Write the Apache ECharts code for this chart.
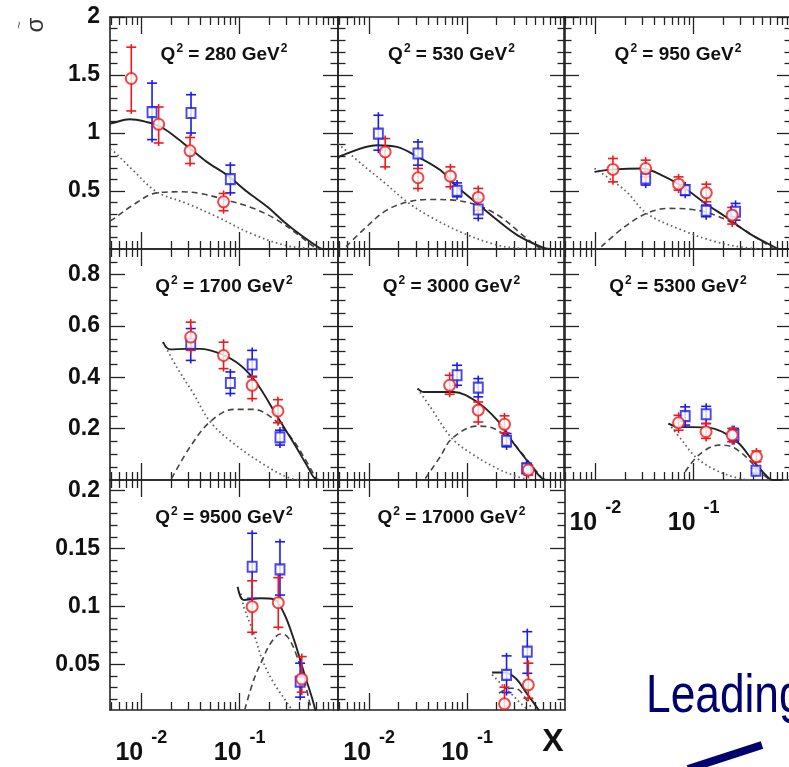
<!DOCTYPE html>
<html><head><meta charset="utf-8">
<script src="https://cdn.jsdelivr.net/npm/echarts@6/dist/echarts.min.js"></script>
<style>html,body{margin:0;padding:0;background:#fff;}#c{width:789px;height:767px;}</style>
</head><body><div id="c"></div>
<script>
// ---------------- data ----------------
const Q2 = [280, 530, 950, 1700, 3000, 5300, 9500, 17000];
// points: [x, value, errLow, errHigh]
const red280  = [[0.0079,1.47,1.19,1.74],[0.0150,1.075,0.914,1.224],[0.0313,0.846,0.737,0.961],[0.0686,0.407,0.33,0.479]];
const blue280 = [[0.01285,1.18,0.943,1.43],[0.032,1.173,1.0,1.33],[0.0804,0.602,0.484,0.723]];
const tot280  = [[0.0048,1.08],[0.0051,1.086],[0.0076,1.118],[0.0113,1.095],[0.0154,1.058],[0.0211,0.981],[0.0313,0.866],[0.0463,0.751],[0.0743,0.637],[0.119,0.493],[0.191,0.364],[0.282,0.235],[0.419,0.12],[0.621,0.02],[0.7,0],[1,0]];
const dot280  = [[0.0048,0.86],[0.0053,0.837],[0.0082,0.68],[0.0143,0.493],[0.0289,0.393],[0.0586,0.278],[0.129,0.135],[0.282,0.034],[0.49,0.006],[0.7,0]];
const dash280 = [[0.0048,0.24],[0.0053,0.264],[0.0082,0.378],[0.0143,0.484],[0.0247,0.493],[0.0396,0.479],[0.0743,0.421],[0.139,0.35],[0.242,0.249],[0.419,0.106],[0.573,0.02],[0.7,0]];

const red530  = [[0.01456,0.837,0.708,0.952],[0.0315,0.614,0.522,0.694],[0.0675,0.628,0.536,0.708],[0.13,0.445,0.335,0.522]];
const blue530 = [[0.0124,0.995,0.852,1.153],[0.0315,0.823,0.723,0.923],[0.079,0.502,0.45,0.57],[0.13,0.341,0.264,0.43]];
const tot530  = [[0.0048,0.78],[0.00504,0.80],[0.012,0.895],[0.0192,0.88],[0.0315,0.794],[0.0532,0.68],[0.079,0.536],[0.1265,0.393],[0.203,0.249],[0.325,0.12],[0.564,0.02],[0.7,0],[1,0]];
const dot530  = [[0.0048,0.91],[0.0087,0.72],[0.014,0.579],[0.0243,0.407],[0.042,0.278],[0.0923,0.135],[0.203,0.034],[0.352,0.005],[0.6,0]];
const dash530 = [[0.0058,0.02],[0.0094,0.192],[0.0151,0.335],[0.0252,0.407],[0.042,0.427],[0.0729,0.421],[0.1265,0.378],[0.219,0.278],[0.352,0.135],[0.521,0.02],[0.6,0]];

const red950  = [[0.0151,0.686,0.579,0.78],[0.0325,0.694,0.622,0.766],[0.0702,0.559,0.508,0.622],[0.1345,0.484,0.407,0.559],[0.2465,0.292,0.215,0.358]];
const blue950 = [[0.0325,0.608,0.551,0.665],[0.082,0.508,0.464,0.551],[0.134,0.33,0.278,0.378],[0.2667,0.321,0.249,0.393]];
const tot950  = [[0.0098,0.665],[0.0157,0.686],[0.0295,0.694],[0.0512,0.622],[0.082,0.522],[0.1315,0.393],[0.211,0.278],[0.366,0.135],[0.634,0.026],[0.75,0],[1,0]];
const dot950  = [[0.0098,0.694],[0.0199,0.508],[0.0333,0.307],[0.0759,0.163],[0.166,0.063],[0.313,0.015],[0.5,0]];
const dash950 = [[0.0115,0.02],[0.0199,0.192],[0.0333,0.307],[0.0555,0.35],[0.096,0.341],[0.166,0.292],[0.289,0.192],[0.501,0.063],[0.634,0.01]];

const red1700  = [[0.0318,0.557,0.505,0.615],[0.0686,0.485,0.434,0.537],[0.134,0.369,0.317,0.401],[0.245,0.269,0.223,0.313]];
const blue1700 = [[0.0318,0.531,0.466,0.59],[0.0804,0.378,0.337,0.421],[0.134,0.45,0.404,0.505],[0.257,0.166,0.136,0.194]];
const tot1700  = [[0.0166,0.537],[0.0195,0.509],[0.0289,0.511],[0.0396,0.511],[0.0634,0.492],[0.1017,0.447],[0.1506,0.375],[0.242,0.246],[0.357,0.142],[0.491,0.052],[0.597,0.003],[0.7,0]];
const dot1700  = [[0.0166,0.537],[0.0229,0.44],[0.0338,0.337],[0.0501,0.227],[0.0869,0.142],[0.191,0.052],[0.33,0.006],[0.45,0]];
const dash1700 = [[0.0203,0.006],[0.0313,0.129],[0.0501,0.227],[0.0869,0.275],[0.139,0.275],[0.2066,0.246],[0.33,0.168],[0.491,0.065],[0.597,0.005]];

const red3000  = [[0.0664,0.369,0.334,0.408],[0.13,0.272,0.226,0.304],[0.241,0.217,0.184,0.25],[0.422,0.039,0.019,0.058]];
const blue3000 = [[0.079,0.408,0.369,0.447],[0.13,0.36,0.324,0.395],[0.253,0.153,0.129,0.181],[0.405,0.045,0.026,0.065]];
const tot3000  = [[0.0312,0.356],[0.0359,0.343],[0.0729,0.343],[0.1265,0.304],[0.203,0.233],[0.3,0.142],[0.446,0.058],[0.586,0.006],[0.7,0]];
const dot3000  = [[0.0312,0.356],[0.042,0.285],[0.0702,0.162],[0.117,0.097],[0.203,0.045],[0.325,0.013],[0.45,0]];
const dash3000 = [[0.0374,0.006],[0.0532,0.091],[0.0702,0.162],[0.1265,0.21],[0.1875,0.201],[0.278,0.155],[0.412,0.078],[0.564,0.013]];

const red5300  = [[0.0702,0.223,0.194,0.252],[0.1337,0.188,0.162,0.22],[0.2465,0.175,0.149,0.201],[0.435,0.091,0.071,0.113]];
const blue5300 = [[0.082,0.249,0.214,0.285],[0.134,0.256,0.22,0.287],[0.257,0.175,0.149,0.201],[0.43,0.036,0.026,0.046]];
const tot5300  = [[0.0555,0.22],[0.0702,0.207],[0.1315,0.205],[0.195,0.188],[0.289,0.142],[0.395,0.078],[0.542,0.019],[0.634,0],[0.8,0]];
const dot5300  = [[0.0555,0.22],[0.0759,0.155],[0.1038,0.091],[0.166,0.039],[0.289,0.006],[0.4,0]];
const dash5300 = [[0.082,0.032],[0.1125,0.097],[0.18,0.136],[0.2465,0.129],[0.338,0.091],[0.501,0.023],[0.6,0]];

const red9500  = [[0.134,0.0997,0.0776,0.122],[0.247,0.1031,0.0819,0.1247],[0.428,0.0373,0.0259,0.0566]];
const blue9500 = [[0.134,0.1341,0.1069,0.163],[0.257,0.1319,0.1097,0.1557],[0.412,0.035,0.0216,0.0509]];
const tot9500  = [[0.0954,0.1169],[0.11,0.1054],[0.163,0.1069],[0.223,0.106],[0.282,0.094],[0.357,0.071],[0.453,0.0422],[0.552,0.0192],[0.597,0.008]];
const dot9500  = [[0.1033,0.111],[0.11,0.0997],[0.139,0.0767],[0.17,0.0537],[0.223,0.0336],[0.306,0.0164],[0.357,0.008]];
const dash9500 = [[0.1125,0.0106],[0.139,0.0365],[0.17,0.0537],[0.2066,0.0681],[0.261,0.0761],[0.306,0.0738],[0.372,0.0595],[0.453,0.0365],[0.53,0.012]];

const red17000  = [[0.241,0.0158,0.0,0.0302],[0.422,0.0322,0.0207,0.0509]];
const blue17000 = [[0.253,0.0408,0.0255,0.0572],[0.412,0.0609,0.0422,0.0781]];
const tot17000  = [[0.18,0.0428],[0.237,0.0428],[0.313,0.0379],[0.395,0.0264],[0.481,0.0164],[0.542,0.01]];
const dot17000  = [[0.18,0.041],[0.219,0.0336],[0.278,0.025],[0.338,0.0178],[0.4,0.012]];
const dash17000 = [[0.211,0.025],[0.278,0.0293],[0.338,0.0278],[0.395,0.0207],[0.446,0.0134]];

// axis ticks / labels
const xMajor = [0.01, 0.1];
const xMinor = [0.005,0.006,0.007,0.008,0.009,0.02,0.03,0.04,0.05,0.06,0.07,0.08,0.09,0.2,0.3,0.4,0.5,0.6,0.7,0.8,0.9];
const yRangeR1 = [0, 2], yRangeR2 = [0, 0.9], yRangeR3 = [0.0105, 0.209];
const yMajorR1 = [0.5, 1, 1.5, 2];
const yMajorR2 = [0.2, 0.4, 0.6, 0.8];
const yMajorR3 = [0.05, 0.1, 0.15, 0.2];
const yMinorR1 = [0.1,0.2,0.3,0.4,0.6,0.7,0.8,0.9,1.1,1.2,1.3,1.4,1.6,1.7,1.8,1.9];
const yMinorR2 = [0.05,0.1,0.15,0.25,0.3,0.35,0.45,0.5,0.55,0.65,0.7,0.75,0.85];
const yMinorR3 = [0.02,0.03,0.04,0.06,0.07,0.08,0.09,0.11,0.12,0.13,0.14,0.16,0.17,0.18,0.19];

// ---------------- layout ----------------
const XMIN = 0.0048, XMAX = 1;
const cols = [[110,228],[338,227],[564,228]];
const rows = [[17,232],[249,231],[480,230]];
const rowY = [
  {range: yRangeR1, major: yMajorR1, minor: yMinorR1},
  {range: yRangeR2, major: yMajorR2, minor: yMinorR2},
  {range: yRangeR3, major: yMajorR3, minor: yMinorR3}
];
const panels = [
  {q:Q2[0], red:red280, blue:blue280, tot:tot280, dot:dot280, dash:dash280},
  {q:Q2[1], red:red530, blue:blue530, tot:tot530, dot:dot530, dash:dash530},
  {q:Q2[2], red:red950, blue:blue950, tot:tot950, dot:dot950, dash:dash950},
  {q:Q2[3], red:red1700, blue:blue1700, tot:tot1700, dot:dot1700, dash:dash1700},
  {q:Q2[4], red:red3000, blue:blue3000, tot:tot3000, dot:dot3000, dash:dash3000},
  {q:Q2[5], red:red5300, blue:blue5300, tot:tot5300, dot:dot5300, dash:dash5300},
  {q:Q2[6], red:red9500, blue:blue9500, tot:tot9500, dot:dot9500, dash:dash9500},
  {q:Q2[7], red:red17000, blue:blue17000, tot:tot17000, dot:dot17000, dash:dash17000}
];

const AX = '#222';
const FONT = "'Liberation Sans', Arial, sans-serif";
const RED = '#f01818', BLUE = '#1a1aee';

function xAx(g, pos, vals, len, showLine, label) {
  return {
    type: 'log', logBase: 10, gridIndex: g, position: pos, min: XMIN, max: XMAX,
    axisLine: {show: showLine, onZero: false, lineStyle: {color: AX, width: 1.6}},
    axisTick: {show: true, inside: true, length: len, customValues: vals, lineStyle: {color: AX, width: 1.3}},
    axisLabel: label ? {
      show: true, customValues: xMajor, margin: 19,
      formatter: v => v < 0.05 ? '{b|10}{s|-2}' : '{b|10}{s|-1}',
      rich: {
        b: {fontSize: 25, fontWeight: 'bold', fontFamily: FONT, color: '#111'},
        s: {fontSize: 18, fontWeight: 'bold', fontFamily: FONT, color: '#111', padding: [0, 0, 30, 8]}
      }
    } : {show: false},
    splitLine: {show: false}, minorTick: {show: false}, minorSplitLine: {show: false}
  };
}
function yAx(g, pos, range, vals, len, showLine, label, majors) {
  return {
    type: 'value', gridIndex: g, position: pos, min: range[0], max: range[1],
    axisLine: {show: showLine, onZero: false, lineStyle: {color: AX, width: 1.6}},
    axisTick: {show: true, inside: true, length: len, customValues: vals, lineStyle: {color: AX, width: 1.3}},
    axisLabel: label ? {
      show: true, customValues: majors, margin: 10,
      fontSize: 23, fontWeight: 'bold', fontFamily: FONT, color: '#111',
      formatter: v => String(+v.toFixed(3))
    } : {show: false},
    splitLine: {show: false}, minorTick: {show: false}, minorSplitLine: {show: false}
  };
}
function errRender(color) {
  return function (params, api) {
    const x = api.value(0), lo = api.value(2), hi = api.value(3);
    const a = api.coord([x, lo]), b = api.coord([x, hi]);
    const w = 5, st = {stroke: color, lineWidth: 1.6};
    return {type: 'group', children: [
      {type: 'line', shape: {x1: a[0], y1: a[1] + 3, x2: b[0], y2: b[1] - 3}, style: st},
      {type: 'line', shape: {x1: a[0] - w, y1: a[1], x2: a[0] + w, y2: a[1]}, style: st},
      {type: 'line', shape: {x1: b[0] - w, y1: b[1], x2: b[0] + w, y2: b[1]}, style: st}
    ]};
  };
}

const option = {
  animation: false, backgroundColor: '#fff',
  grid: [], xAxis: [], yAxis: [], series: [], graphic: []
};

panels.forEach((p, i) => {
  const r = Math.floor(i / 3), c = i % 3;
  const gx = cols[c][0], gw = cols[c][1], gy = rows[r][0], gh = rows[r][1];
  option.grid.push({left: gx, top: gy, width: gw, height: gh, containLabel: false, outerBoundsMode: 'none'});
  const xLab = (i === 5 || i === 6 || i === 7);
  option.xAxis.push(
    xAx(i, 'bottom', xMajor, 17, true, xLab),
    xAx(i, 'bottom', xMinor, 8, false, false),
    xAx(i, 'top', xMajor, 17, true, false),
    xAx(i, 'top', xMinor, 8, false, false)
  );
  const ry = rowY[r];
  option.yAxis.push(
    yAx(i, 'left', ry.range, ry.major, 15, true, c === 0, ry.major),
    yAx(i, 'left', ry.range, ry.minor, 7.5, false, false),
    yAx(i, 'right', ry.range, ry.major, 15, true, false),
    yAx(i, 'right', ry.range, ry.minor, 7.5, false, false)
  );
  const xi = i * 4, yi = i * 4;
  option.series.push(
    {type: 'line', xAxisIndex: xi, yAxisIndex: yi, data: p.dot, smooth: 0.35, symbol: 'none', clip: true,
     lineStyle: {color: '#666', width: 1.8, type: [1.6, 3]}, z: 2},
    {type: 'line', xAxisIndex: xi, yAxisIndex: yi, data: p.dash, smooth: 0.35, symbol: 'none', clip: true,
     lineStyle: {color: '#444', width: 1.6, type: [6, 4]}, z: 2},
    {type: 'line', xAxisIndex: xi, yAxisIndex: yi, data: p.tot, smooth: 0.35, symbol: 'none', clip: true,
     lineStyle: {color: '#222', width: 1.9}, z: 3},
    {type: 'custom', xAxisIndex: xi, yAxisIndex: yi, data: p.blue, renderItem: errRender(BLUE), clip: true,
     encode: {x: 0, y: 1}, z: 4},
    {type: 'custom', xAxisIndex: xi, yAxisIndex: yi, data: p.red, renderItem: errRender(RED), clip: true,
     encode: {x: 0, y: 1}, z: 4},
    {type: 'scatter', xAxisIndex: xi, yAxisIndex: yi, data: p.blue.map(d => [d[0], d[1]]), symbol: 'emptyRect',
     symbolSize: [9, 10], itemStyle: {color: BLUE, borderWidth: 1.8}, clip: true, z: 5},
    {type: 'scatter', xAxisIndex: xi, yAxisIndex: yi, data: p.red.map(d => [d[0], d[1]]), symbol: 'emptyCircle',
     symbolSize: 11, itemStyle: {color: RED, borderWidth: 1.8}, clip: true, z: 5}
  );
  option.graphic.push({
    type: 'text', x: gx + gw / 2, y: gy + 38, z: 10,
    style: {
      text: '{n|Q}{s|2}{n| = ' + p.q + ' GeV}{s|2}', align: 'center', verticalAlign: 'middle',
      rich: {
        n: {fontSize: 19, fontWeight: 'bold', fontFamily: FONT, fill: '#111'},
        s: {fontSize: 12, fontWeight: 'bold', fontFamily: FONT, fill: '#111', padding: [0, 0, 12, 1]}
      }
    }
  });
});

option.graphic.push(
  {type: 'text', x: 36, y: 25, rotation: Math.PI / 2, z: 10,
   style: {text: 'σ', fontSize: 24, fontFamily: FONT, fill: '#333', align: 'center', verticalAlign: 'middle'}},
  {type: 'text', x: 19, y: 25, rotation: Math.PI / 2, z: 10,
   style: {text: '~', fontSize: 13, fontFamily: FONT, fill: '#555', align: 'center', verticalAlign: 'middle'}},
  {type: 'text', x: 553, y: 742, z: 10,
   style: {text: 'X', fontSize: 32, fontWeight: 'bold', fontFamily: FONT, fill: '#111', align: 'center', verticalAlign: 'middle'}},
  {type: 'text', x: 646, y: 697, z: 10, scaleX: 0.82,
   style: {text: 'Leading', fontSize: 54, fontFamily: FONT, fill: '#00006e', align: 'left', verticalAlign: 'middle'}},
  {type: 'line', z: 10, shape: {x1: 688, y1: 769, x2: 762, y2: 745}, style: {stroke: '#00006e', lineWidth: 8}}
);

const chart = echarts.init(document.getElementById('c'), null, {renderer: 'canvas'});
chart.setOption(option);
</script>
</body></html>
